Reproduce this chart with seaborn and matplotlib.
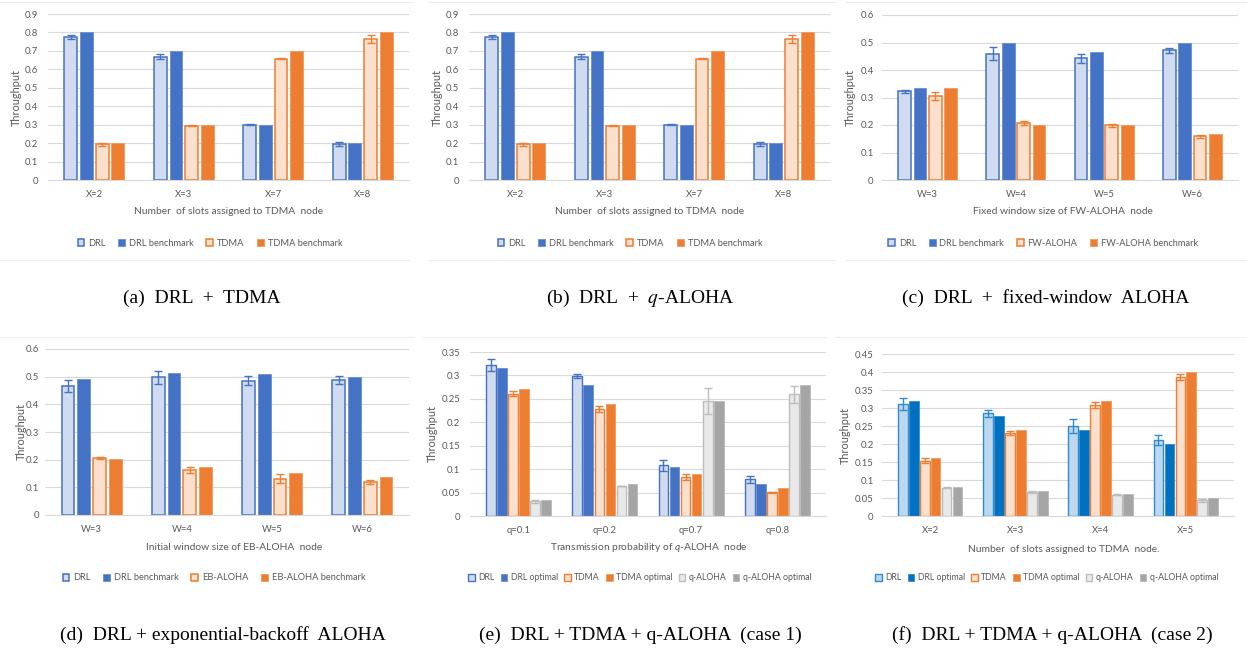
import numpy as np
import pandas as pd
import matplotlib
matplotlib.use("Agg")
import matplotlib.pyplot as plt
import seaborn as sns
from matplotlib.patches import Patch
from matplotlib.lines import Line2D

sns.set_theme(style="white")
plt.rcParams['font.family'] = ['Lato', 'DejaVu Sans']
plt.rcParams['mathtext.fontset'] = 'custom'
plt.rcParams['mathtext.it'] = 'Lato:italic'
plt.rcParams['mathtext.rm'] = 'Lato'

W, H = 1247, 652

# ---------------- data ----------------
a_cats = ["X=2", "X=3", "X=7", "X=8"]
a_drl = [0.774, 0.668, 0.299, 0.193]
a_drl_err = [0.012, 0.013, 0.003, 0.011]
a_drl_bench = [0.8, 0.7, 0.3, 0.2]
a_tdma = [0.193, 0.295, 0.657, 0.764]
a_tdma_err = [0.008, 0.003, 0.003, 0.02]
a_tdma_bench = [0.2, 0.3, 0.7, 0.8]

b_cats = ["X=2", "X=3", "X=7", "X=8"]
b_drl = [0.774, 0.668, 0.299, 0.193]
b_drl_err = [0.012, 0.013, 0.003, 0.011]
b_drl_bench = [0.8, 0.7, 0.3, 0.2]
b_tdma = [0.193, 0.295, 0.657, 0.764]
b_tdma_err = [0.008, 0.003, 0.003, 0.02]
b_tdma_bench = [0.2, 0.3, 0.7, 0.8]

c_cats = ["W=3", "W=4", "W=5", "W=6"]
c_drl = [0.323, 0.459, 0.442, 0.472]
c_drl_err = [0.006, 0.024, 0.016, 0.009]
c_drl_bench = [0.333, 0.5, 0.467, 0.5]
c_fw = [0.305, 0.207, 0.199, 0.159]
c_fw_err = [0.015, 0.008, 0.005, 0.005]
c_fw_bench = [0.333, 0.2, 0.2, 0.167]

d_cats = ["W=3", "W=4", "W=5", "W=6"]
d_drl = [0.466, 0.498, 0.486, 0.489]
d_drl_err = [0.023, 0.023, 0.015, 0.014]
d_drl_bench = [0.491, 0.513, 0.510, 0.500]
d_eb = [0.206, 0.163, 0.131, 0.118]
d_eb_err = [0.003, 0.012, 0.017, 0.007]
d_eb_bench = [0.204, 0.174, 0.152, 0.139]

e_cats = ["q=0.1", "q=0.2", "q=0.7", "q=0.8"]
e_drl = [0.322, 0.299, 0.108, 0.078]
e_drl_err = [0.012, 0.004, 0.012, 0.008]
e_drl_opt = [0.315, 0.280, 0.105, 0.069]
e_tdma = [0.261, 0.229, 0.083, 0.051]
e_tdma_err = [0.005, 0.006, 0.006, 0.001]
e_tdma_opt = [0.270, 0.240, 0.090, 0.060]
e_qa = [0.031, 0.064, 0.245, 0.260]
e_qa_err = [0.004, 0.001, 0.028, 0.018]
e_qa_opt = [0.035, 0.069, 0.245, 0.280]

f_cats = ["X=2", "X=3", "X=4", "X=5"]
f_drl = [0.312, 0.285, 0.250, 0.211]
f_drl_err = [0.017, 0.009, 0.020, 0.013]
f_drl_opt = [0.320, 0.279, 0.240, 0.200]
f_tdma = [0.153, 0.231, 0.308, 0.386]
f_tdma_err = [0.007, 0.005, 0.009, 0.008]
f_tdma_opt = [0.160, 0.240, 0.320, 0.400]
f_qa = [0.079, 0.067, 0.059, 0.044]
f_qa_err = [0.002, 0.003, 0.002, 0.004]
f_qa_opt = [0.080, 0.070, 0.060, 0.050]

# ---------------- styles ----------------
BLUE, BLUE_L = "#4472C4", "#D0DBEF"
ORANGE, ORANGE_L = "#ED7D31", "#FBE0CD"
GRAY, GRAY_L = "#A5A5A5", "#E9E9E9"
GRAY_E = "#BDBDBD"
BLUE2, BLUE2_L, BLUE2_E = "#0070C0", "#BDD7EE", "#2E8BD0"
TXT = "#595959"
GRID = "#D9D9D9"

fig = plt.figure(figsize=(W / 100, H / 100), dpi=100)


def panel(rect, cats, series, ymax, ystep, xlabel, xlab_xy, ylab_x, ypad,
          legend_xy, width, gap, colspace=1.35, legsize=6.7):
    L, T, R, B = rect
    ax = fig.add_axes([L / W, 1 - B / H, (R - L) / W, (B - T) / H])
    rows = []
    for name, vals, err, face, edge, lw in series:
        for c, v in zip(cats, vals):
            rows.append({"cat": c, "val": v, "series": name})
    df = pd.DataFrame(rows)
    names = [s[0] for s in series]
    sns.barplot(data=df, x="cat", y="val", hue="series", order=cats,
                hue_order=names, palette={s[0]: s[3] for s in series},
                width=width, gap=gap, errorbar=None, legend=False, ax=ax,
                saturation=1)
    for cont, (name, vals, err, face, edge, lw) in zip(ax.containers, series):
        xs, hs = [], []
        for p in cont:
            p.set_edgecolor(edge)
            p.set_linewidth(lw)
            p.set_zorder(2)
            xs.append(p.get_x() + p.get_width() / 2)
            hs.append(p.get_height())
        if err is not None:
            idx = [int(round(x)) for x in xs]
            ax.errorbar(xs, hs, yerr=[err[i] for i in idx], fmt="none",
                        ecolor=edge, elinewidth=1.0, capsize=2.6,
                        capthick=1.0, zorder=3)
    ax.set_ylim(0, ymax)
    ticks = np.round(np.arange(0, ymax + 1e-9, ystep), 3)
    ax.set_yticks(ticks)
    ax.set_yticklabels([f"{t:g}" for t in ticks])
    ax.grid(axis="y", color=GRID, lw=0.8)
    ax.set_axisbelow(True)
    for s in ["top", "left", "right"]:
        ax.spines[s].set_visible(False)
    ax.spines["bottom"].set_color(GRID)
    ax.spines["bottom"].set_linewidth(0.8)
    ax.tick_params(axis="both", length=0, labelsize=6.8, colors=TXT)
    ax.tick_params(axis="y", pad=ypad)
    ax.tick_params(axis="x", pad=7.5)
    ax.set_xlabel(xlabel, fontsize=7.4, color=TXT, va="center")
    ax.xaxis.set_label_coords((xlab_xy[0] - L) / (R - L),
                              (B - xlab_xy[1]) / (B - T))
    ax.set_ylabel("Throughput", fontsize=7.8, color=TXT, va="center")
    ax.yaxis.set_label_coords((ylab_x - L) / (R - L), 0.5)
    handles = [Patch(facecolor=s[3], edgecolor=s[4], lw=s[5]) for s in series]
    fig.legend(handles, names, loc="center",
               bbox_to_anchor=(legend_xy[0] / W, 1 - legend_xy[1] / H),
               ncol=len(series), frameon=False, fontsize=legsize,
               handlelength=0.75, handleheight=0.75, handletextpad=0.4,
               columnspacing=colspace, labelcolor=TXT, borderaxespad=0,
               borderpad=0)
    return ax


panel((48, 14, 409, 180), a_cats,
      [("DRL", a_drl, a_drl_err, BLUE_L, BLUE, 1.1),
       ("DRL benchmark", a_drl_bench, None, BLUE, "#6A8FD3", 0.6),
       ("TDMA", a_tdma, a_tdma_err, ORANGE_L, ORANGE, 1.1),
       ("TDMA benchmark", a_tdma_bench, None, ORANGE, "#F29A5E", 0.6)],
      0.9, 0.1, "Number  of slots assigned to TDMA  node", (229, 212), 16, 7,
      (210, 243), 0.7, 0.18)

panel((469, 14, 830, 180), b_cats,
      [("DRL", b_drl, b_drl_err, BLUE_L, BLUE, 1.1),
       ("DRL benchmark", b_drl_bench, None, BLUE, "#6A8FD3", 0.6),
       ("TDMA", b_tdma, b_tdma_err, ORANGE_L, ORANGE, 1.1),
       ("TDMA benchmark", b_tdma_bench, None, ORANGE, "#F29A5E", 0.6)],
      0.9, 0.1, "Number  of slots assigned to TDMA  node", (650, 212), 437, 7,
      (630, 243), 0.7, 0.18)

panel((882, 15, 1238, 180), c_cats,
      [("DRL", c_drl, c_drl_err, BLUE_L, BLUE, 1.1),
       ("DRL benchmark", c_drl_bench, None, BLUE, "#6A8FD3", 0.6),
       ("FW-ALOHA", c_fw, c_fw_err, ORANGE_L, ORANGE, 1.1),
       ("FW-ALOHA benchmark", c_fw_bench, None, ORANGE, "#F29A5E", 0.6)],
      0.6, 0.1, "Fixed window size of FW-ALOHA  node", (1063, 212), 850, 6,
      (1043, 243), 0.7, 0.18)

panel((45, 349, 409, 515), d_cats,
      [("DRL", d_drl, d_drl_err, BLUE_L, BLUE, 1.1),
       ("DRL benchmark", d_drl_bench, None, BLUE, "#6A8FD3", 0.6),
       ("EB-ALOHA", d_eb, d_eb_err, ORANGE_L, ORANGE, 1.1),
       ("EB-ALOHA benchmark", d_eb_bench, None, ORANGE, "#F29A5E", 0.6)],
      0.6, 0.1, "Initial window size of EB-ALOHA  node", (234, 548), 21, 4,
      (214, 578), 0.7, 0.18)

panel((470, 352, 826, 516), e_cats,
      [("DRL", e_drl, e_drl_err, BLUE_L, BLUE, 1.0),
       ("DRL optimal", e_drl_opt, None, BLUE, "#6A8FD3", 0.6),
       ("TDMA", e_tdma, e_tdma_err, ORANGE_L, ORANGE, 1.0),
       ("TDMA optimal", e_tdma_opt, None, ORANGE, "#F29A5E", 0.6),
       ("q-ALOHA", e_qa, e_qa_err, GRAY_L, GRAY_E, 1.0),
       ("q-ALOHA optimal", e_qa_opt, None, GRAY, "#B8B8B8", 0.6)],
      0.35, 0.05, "Transmission probability of $q$-ALOHA  node", (649, 548),
      432, 7, (640, 578), 0.77, 0.12, colspace=0.7, legsize=6.3)

panel((882, 354, 1234, 516), f_cats,
      [("DRL", f_drl, f_drl_err, BLUE2_L, BLUE2_E, 1.0),
       ("DRL optimal", f_drl_opt, None, BLUE2, "#3A8ED0", 0.6),
       ("TDMA", f_tdma, f_tdma_err, ORANGE_L, ORANGE, 1.0),
       ("TDMA optimal", f_tdma_opt, None, ORANGE, "#F29A5E", 0.6),
       ("q-ALOHA", f_qa, f_qa_err, GRAY_L, GRAY_E, 1.0),
       ("q-ALOHA optimal", f_qa_opt, None, GRAY, "#B8B8B8", 0.6)],
      0.45, 0.05, "Number  of slots assigned to TDMA  node.", (1064, 549),
      845, 6, (1047, 578), 0.77, 0.12, colspace=0.7, legsize=6.3)

# faint chart-area frame lines
FRAME = "#EDEDED"
for (x0, x1, y) in [(0, 414, 2), (428, 836, 2), (846, 1247, 2),
                    (0, 409, 260), (428, 836, 260), (846, 1247, 260),
                    (0, 414, 337), (423, 827, 337), (835, 1247, 337)]:
    fig.add_artist(Line2D([x0 / W, x1 / W], [1 - y / H, 1 - y / H],
                          transform=fig.transFigure, color=FRAME, lw=0.8))

# captions
caps = [("(a)  DRL  +  TDMA", 202, 298),
        ("(b)  DRL  +  $q$-ALOHA", 640, 298),
        ("(c)  DRL  +  fixed-window  ALOHA", 1046, 298),
        ("(d)  DRL + exponential-backoff  ALOHA", 223, 635),
        ("(e)  DRL + TDMA + q-ALOHA  (case 1)", 640, 635),
        ("(f)  DRL + TDMA + q-ALOHA  (case 2)", 1052, 635)]
for text, cx, cy in caps:
    t = fig.text(cx / W, 1 - cy / H, text, ha="center", va="center",
                 family="Liberation Serif", fontsize=14, color="black")
    t.set_math_fontfamily("stix")

fig.savefig("out.png", dpi=100)
